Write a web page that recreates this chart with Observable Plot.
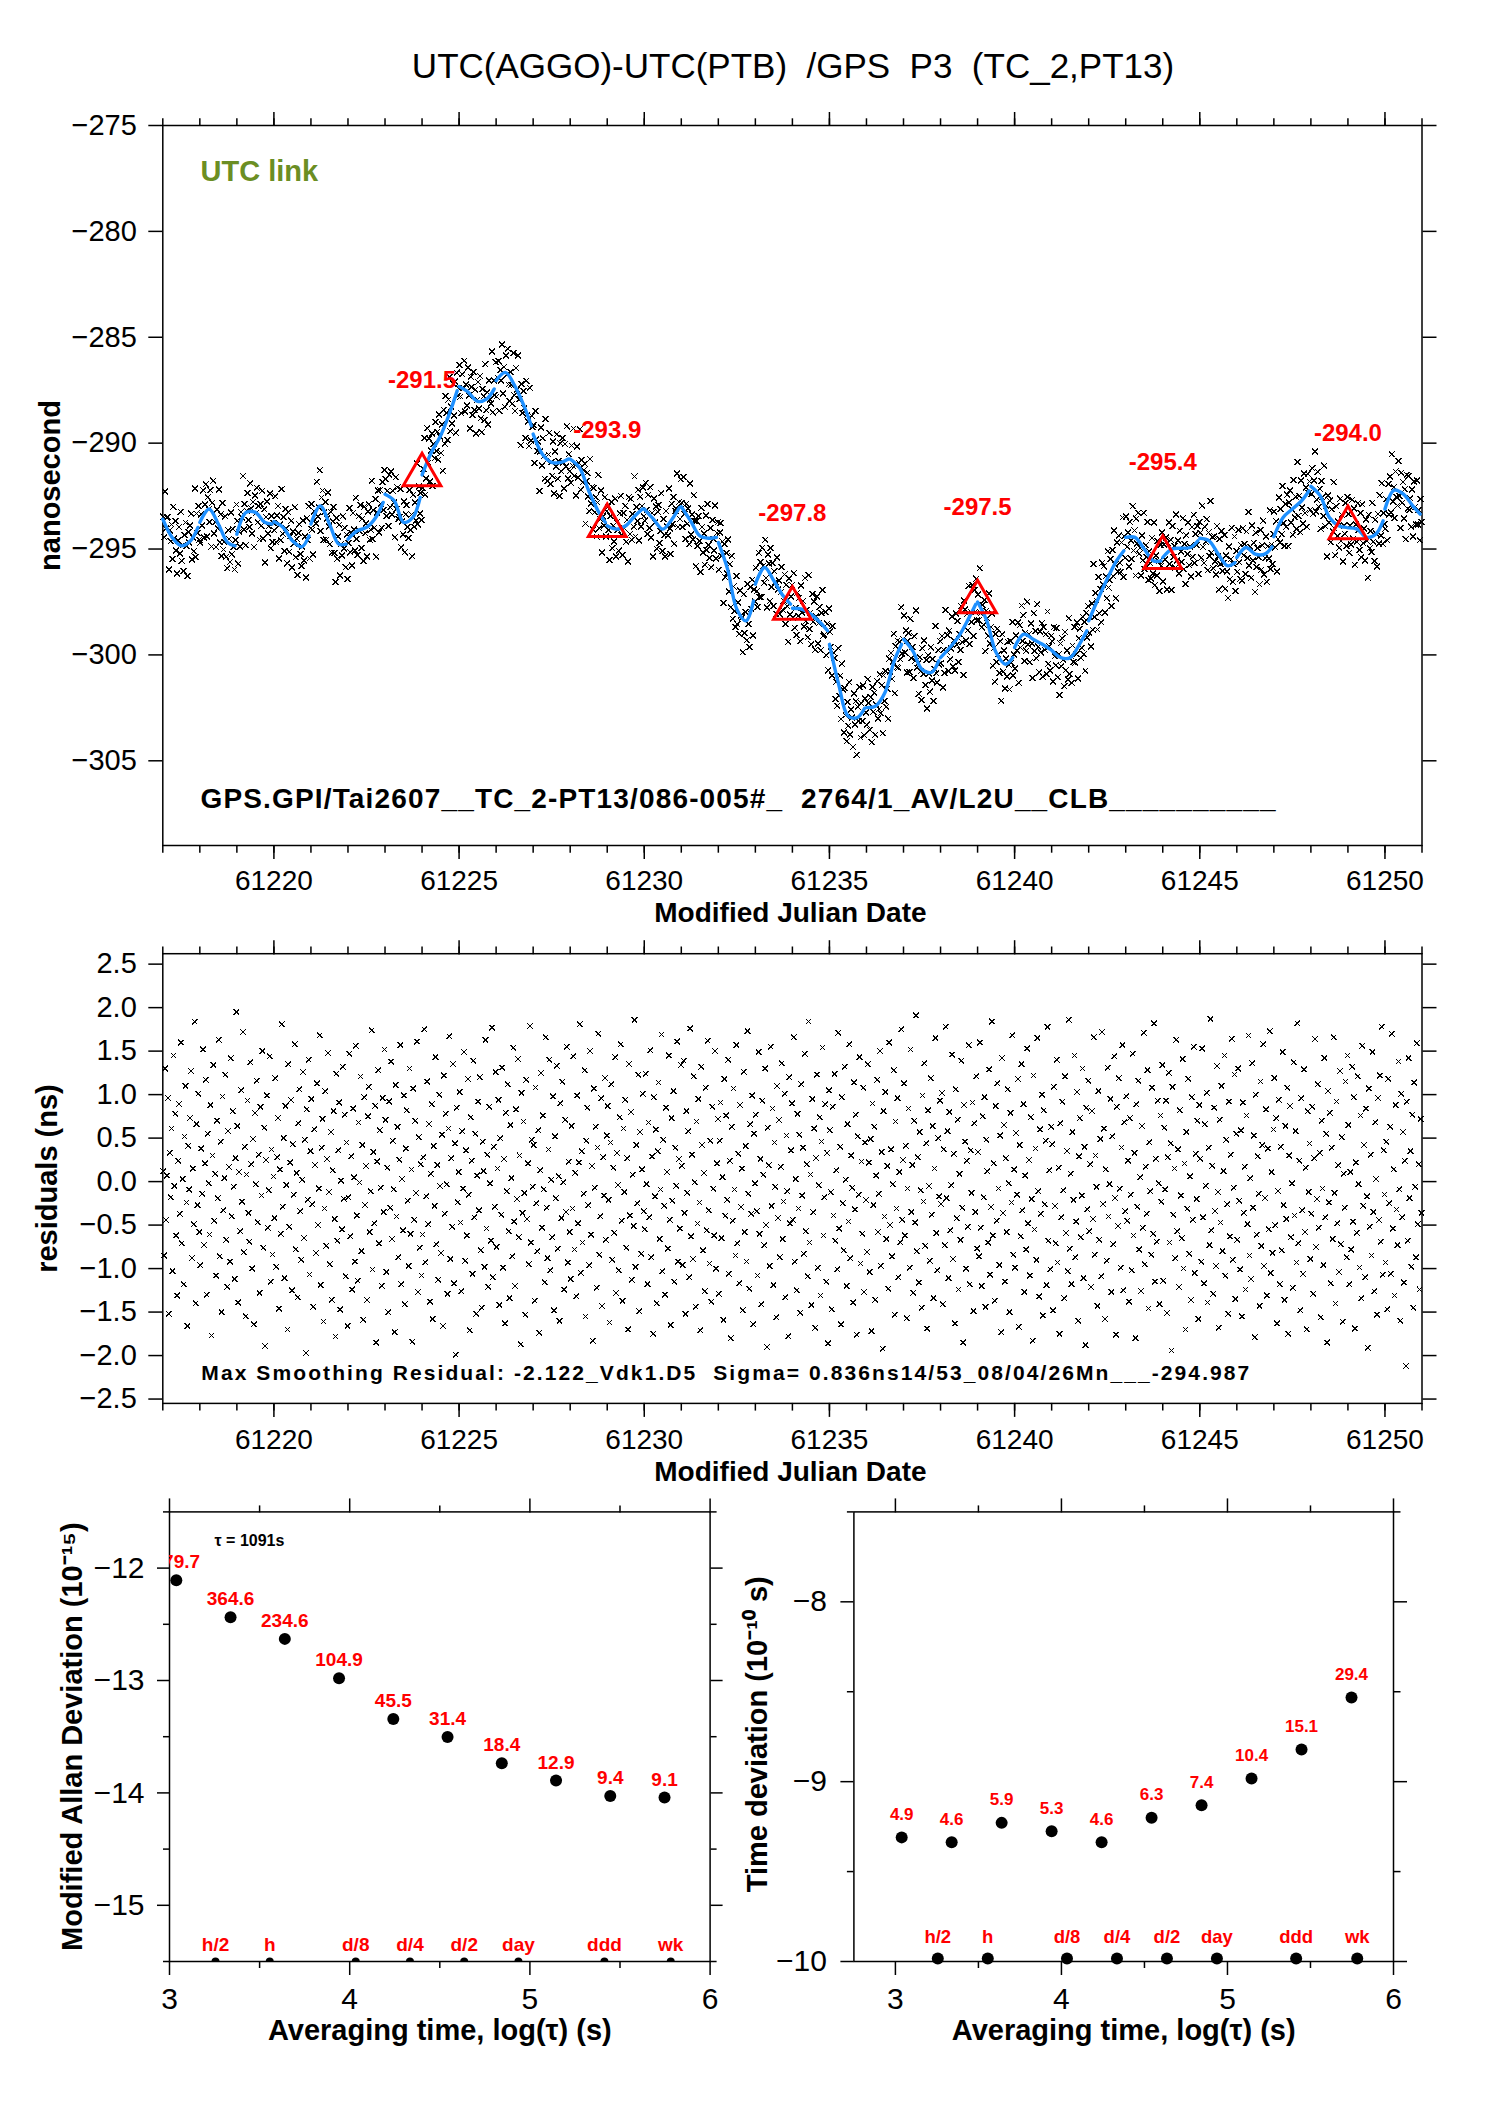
<!DOCTYPE html>
<html><head><meta charset="utf-8">
<script src="https://cdn.jsdelivr.net/npm/d3@7"></script>
<script src="https://cdn.jsdelivr.net/npm/@observablehq/plot@0.6"></script>
<style>
body{margin:0;background:#fff;}
#page{position:relative;width:1488px;height:2105px;background:#fff;overflow:hidden;font-family:"Liberation Sans",Arial,Helvetica,sans-serif;}
#page svg{position:absolute;left:0;top:0;overflow:visible;background:transparent;max-width:none;}
#title{position:absolute;top:46px;left:793px;transform:translateX(-50%);white-space:pre;font-size:35px;line-height:40px;color:#000;}
</style></head><body>
<div id="page"><div id="title">UTC(AGGO)-UTC(PTB)  /GPS  P3  (TC_2,PT13)</div></div>
<script>
// ---------------- data ----------------
const mjdStart = 61217;
const mjdEnd = 61251;
// smoothed curve, 5 samples per day (offsets below), ns
const smoothOffsets = [0, 0.25, 0.5, 0.75, 0.95];
const smoothNs = [
-293.59,-294.45,-294.85,-294.61,-293.98,
-293.74,-293.11,-293.82,-294.69,-294.85,
-294.30,-293.27,-293.27,-293.74,-293.82,
-293.70,-293.98,-294.61,-294.90,-294.38,
-293.82,-292.96,-293.82,-294.77,-294.77,
-294.53,-294.14,-293.98,-293.51,-292.80,
-292.41,-292.72,-293.74,-293.51,-292.56,
-291.50,-290.44,-289.65,-288.55,-287.52,
-287.33,-287.60,-288.03,-287.91,-287.44,
-287.05,-286.66,-287.28,-288.23,-289.18,
-289.57,-290.52,-290.91,-290.91,-290.75,
-290.75,-291.15,-292.25,-293.19,-293.74,
-293.90,-294.06,-293.90,-293.43,-293.11,
-293.11,-293.59,-294.06,-293.59,-293.04,
-293.00,-293.67,-294.38,-294.49,-294.45,
-294.69,-295.95,-297.84,-298.39,-297.45,
-296.66,-295.87,-296.50,-297.21,-297.60,
-297.80,-297.84,-298.08,-298.47,-298.86,
-299.50,-301.39,-302.88,-302.96,-302.52,
-302.49,-302.41,-301.78,-300.28,-299.50,
-299.26,-299.81,-300.68,-300.83,-300.28,
-300.13,-299.65,-299.10,-298.31,-297.61,
-297.50,-298.39,-299.89,-300.44,-300.13,
-299.65,-299.02,-299.26,-299.50,-299.73,
-299.78,-300.13,-300.13,-299.50,-298.86,
-298.39,-297.37,-296.42,-295.56,-295.08,
-294.45,-294.45,-295.00,-295.56,-295.56,
-295.40,-295.00,-294.96,-294.93,-294.61,
-294.49,-294.61,-295.24,-295.79,-295.64,
-295.40,-294.93,-295.24,-295.24,-294.90,
-294.42,-293.51,-293.11,-292.72,-292.25,
-292.04,-292.48,-293.51,-293.90,-293.98,
-294.00,-294.06,-294.45,-294.30,-293.67,
-293.11,-292.22,-292.41,-292.96,-293.35
];
// residuals from the smoothing, 40 per day, in hundredths of ns
const residualsPerDay = 40;
const residualsCentiNs = [
12,-85,130,-44,7,96,-152,33,-18,61,-103,145,-5,78,-62,-131,24,89,-37,160,-71,3,-118,52,110,-24,-166,41,-9,73,127,-88,15,-49,184,-140,66,-27,101,-58,
-96,38,-14,152,-73,21,117,-130,55,-2,-61,88,-177,30,134,-45,9,-108,70,-19,163,-86,46,-150,98,-33,4,123,-67,-121,58,17,-92,142,-40,81,-6,-112,27,195,
64,-139,11,-57,105,-23,172,-81,40,-155,8,93,-36,-69,137,20,-100,49,-164,79,-3,116,-47,31,-128,86,-16,150,-76,62,-189,25,99,-53,-10,144,-115,37,-84,6,
-42,119,-98,28,73,-146,14,-60,181,-29,50,-111,87,-4,-170,135,-52,22,94,-125,43,-15,158,-78,10,-133,67,106,-34,-90,2,126,-65,48,-197,83,-21,140,-107,35,
95,-26,-144,60,19,-82,113,-50,-8,168,-119,39,72,-161,-31,104,-74,26,148,-12,-95,57,-136,13,81,-43,-178,124,-68,36,91,-147,1,-55,132,-20,77,-109,45,-166,
-18,147,-63,29,-124,84,5,-92,156,-39,-114,68,-1,121,-80,42,-159,97,-27,18,-136,75,109,-58,-11,174,-101,34,-48,87,-185,23,128,-71,59,-7,-120,96,-35,152,
71,-104,16,-150,92,-30,138,-66,47,-9,-173,111,-40,63,-87,25,157,-118,3,-56,99,-141,38,82,-22,-97,130,-60,14,-184,107,-44,70,-13,161,-127,51,-76,20,-108,
-61,28,175,-93,-17,115,-49,66,-138,9,89,-158,41,-28,143,-72,19,-113,100,-5,-82,54,-166,122,-37,78,-3,-129,61,167,-89,27,-52,135,-117,44,-199,85,-24,11,
103,-47,-126,58,-8,149,-91,36,-62,118,-15,-171,74,24,-106,139,-41,55,-152,7,92,-33,120,-79,-145,46,12,-98,163,-54,31,-121,86,-2,-68,177,-110,40,-29,126,
-75,15,94,-142,50,-38,131,-99,26,-163,79,-11,112,-57,-134,65,4,-86,154,-46,-120,83,-20,141,-64,30,-187,102,-36,69,-13,-153,117,-43,21,-95,179,-70,48,-6,
42,-137,108,-25,-80,59,-174,13,125,-53,76,-9,-116,166,-30,-88,37,140,-102,2,-64,98,-148,52,-19,133,-77,6,-160,90,-42,115,-1,-124,71,-35,155,-93,23,-58,
-112,64,-31,144,-78,10,-132,99,-48,22,181,-105,35,-70,-14,128,-155,47,85,-27,-96,150,-61,18,-183,107,-7,63,-122,39,170,-84,-40,96,-143,28,-16,119,-67,53,
87,-21,-162,45,112,-90,16,-59,143,-128,33,-4,-102,74,158,-45,-137,61,-12,94,-76,27,-170,135,-39,80,-113,8,-51,186,-98,42,-25,123,-149,57,-83,14,101,-34,
-55,124,-3,-118,68,-41,151,-87,29,-175,97,-17,60,-140,35,114,-66,-9,169,-103,48,-28,-130,85,11,-77,145,-44,-165,73,-22,104,-115,39,-5,161,-92,26,-54,134,
18,-96,139,-36,-152,81,-13,58,-110,176,-63,31,-89,121,-1,-144,69,-48,95,-24,-171,132,42,-79,10,-126,108,-56,162,-33,-94,47,-138,86,-8,-62,150,-100,21,72,
-129,47,91,-65,5,-159,118,-39,76,-21,140,-106,24,-180,63,-45,107,-9,-85,157,-71,32,-117,88,-29,15,-148,126,-58,41,-92,173,-14,-123,66,-37,99,-164,55,-2,
77,-34,-108,149,-60,26,-141,93,8,-73,130,-50,-190,62,19,-97,155,-28,84,-119,45,-6,-156,110,-42,71,-87,17,136,-66,-23,101,-133,53,-11,-178,120,-48,36,90,
-44,166,-92,3,-125,78,-31,54,-151,112,-16,39,-83,147,-57,20,-109,184,-70,8,-142,95,-35,61,-168,27,123,-99,-4,74,-131,46,154,-62,-18,89,-115,33,-186,105,
59,-12,-147,86,-39,124,-68,13,-101,171,-54,40,-164,97,-25,-79,132,2,-120,66,-46,158,-88,30,-7,-139,114,-32,77,-176,52,-15,143,-94,23,-60,108,-127,45,-21,
-81,135,22,-104,49,-172,90,-27,63,-136,7,117,-58,-14,150,-97,34,-192,81,-40,103,-66,18,-123,160,-50,37,-86,-3,128,-153,69,-31,96,-110,11,-70,175,-44,25,
113,-62,41,-157,-8,84,-99,152,-35,19,-128,70,-47,191,-80,28,-116,57,-10,-145,99,-23,136,-74,44,-169,82,-5,-91,119,-38,64,-134,15,165,-59,-102,50,-17,93,
-26,102,-141,37,-73,178,-19,58,-111,80,-56,-4,146,-89,32,-163,106,-42,71,-124,9,-67,139,-30,-185,88,46,-100,24,-52,157,-118,36,-13,91,-149,67,-35,121,-77,
34,-86,160,-53,-120,75,-18,97,-144,48,12,-70,129,-107,-29,184,-62,21,-137,87,-45,113,-8,-96,53,-173,142,-36,65,-115,27,-58,106,-2,-150,79,-24,168,-84,14,
-99,56,-15,118,-167,42,-63,135,-33,89,-127,7,-78,153,-48,25,-108,74,-20,-183,122,-55,38,-90,165,-11,-132,60,-37,100,-154,82,-26,47,-119,178,-68,13,-101,63,
43,-148,109,-28,-71,140,-93,16,-175,67,-41,92,-10,-134,121,-59,35,-103,186,-77,9,-118,57,-21,145,-87,-46,103,-160,29,73,-64,-16,130,-111,40,-188,85,-32,116,
-57,20,-121,81,-43,166,-84,30,-6,-143,104,-67,49,-109,172,-26,61,-158,14,-91,131,-40,-3,95,-127,52,-72,144,-19,-176,86,-51,119,-8,-99,39,157,-125,68,-34,
98,-45,24,-138,73,-15,-102,147,-62,33,-180,89,-29,116,-78,5,-126,64,-53,171,-95,17,-37,128,-146,45,-11,-84,108,-60,182,-115,26,-69,93,-2,-141,76,-23,134,
-114,62,-9,93,-151,28,125,-70,44,-194,109,-38,15,-88,163,-57,37,-121,82,-16,-65,141,-100,21,-170,57,-31,118,-83,6,-136,97,-44,155,-105,32,-20,70,-158,88,
26,-92,153,-41,-117,66,-5,102,-139,39,-73,187,-56,18,-129,85,-34,-97,133,-12,-168,71,-47,110,-80,12,145,-108,48,-26,-152,92,-63,31,164,-90,-7,123,-135,55,
-67,130,-22,-101,59,-155,91,-36,17,-124,76,-49,168,-85,4,-112,136,-30,53,-179,100,-61,29,-14,-143,115,-74,42,158,-97,-19,83,-131,38,-55,173,-105,11,-82,60,
119,-50,73,-163,-11,94,-118,40,-79,149,-27,-136,64,-43,108,-175,30,87,-64,-2,-122,137,-39,58,-93,182,-71,24,-148,96,-33,-106,129,-58,16,-170,81,-12,44,-89,
-37,86,-129,27,164,-75,-20,112,-53,33,-156,70,-8,-96,142,-41,55,-185,104,-24,79,-117,39,-66,166,-13,-140,92,-48,19,-104,127,-72,51,-161,9,-30,115,-87,145,
65,-118,11,-78,132,-46,97,-169,22,-59,121,-3,-99,76,-134,156,-28,42,-110,84,-17,-191,107,-52,31,-85,149,-35,-126,68,3,-153,96,-44,122,-69,178,-107,36,-15,
-93,46,-147,118,-25,63,-106,170,-54,14,-131,88,-32,-73,138,-9,-160,101,-41,57,-116,24,-212,92,-68,142,-19,35,-98,77,-145,114,-6,-87,159,-49,20,-124,72,-36
];
// red triangles (smoothed value at 5-day marks)
const triangleMjd = [61224, 61229, 61234, 61239, 61244, 61249];
const triangleNs = [-291.5, -293.9, -297.8, -297.5, -295.4, -294.0];

// tick values
const topYTicks = [-305, -300, -295, -290, -285, -280, -275];
const midYTicks = [-2.5, -2, -1.5, -1, -0.5, 0, 0.5, 1, 1.5, 2, 2.5];
const mjdMajorTicks = [61220, 61225, 61230, 61235, 61240, 61245, 61250];
const mjdMinorTicks = d3.range(61217, 61252);
const logMajorTicks = [3, 4, 5, 6];
const logMinorTicks = [3.5, 4.5, 5.5];
const mdevYMajor = [-15, -14, -13, -12];
const mdevYMinor = [-15.5, -14.5, -13.5, -12.5, -11.5];
const tdevYMajor = [-10, -9, -8];
const tdevYMinor = [-9.5, -8.5, -7.5];

// stability analysis
const tauSeconds = [1091, 2182, 4364, 8728, 17456, 34912, 69824, 139648, 279296, 558592];
const modAdev1e15 = [779.7, 364.6, 234.6, 104.9, 45.5, 31.4, 18.4, 12.9, 9.4, 9.1];
const tdev1e10 = [4.9, 4.6, 5.9, 5.3, 4.6, 6.3, 7.4, 10.4, 15.1, 29.4];
const markerNames = ["h/2", "h", "d/8", "d/4", "d/2", "day", "ddd", "wk"];
const markerSeconds = [1800, 3600, 10800, 21600, 43200, 86400, 259200, 604800];

// texts
const topInfo = "GPS.GPI/Tai2607__TC_2-PT13/086-005#_  2764/1_AV/L2U__CLB__________";
const midInfo = "Max Smoothing Residual: -2.122_Vdk1.D5  Sigma= 0.836ns14/53_08/04/26Mn___-294.987";

// ---------------- tables ----------------
const nOff = smoothOffsets.length;
const smooth = smoothNs.map((v, i) => ({t: mjdStart + Math.floor(i / nOff) + smoothOffsets[i % nOff], v, day: Math.floor(i / nOff)}));
const raw = residualsCentiNs.map((c, j) => {
  const day = Math.floor(j / residualsPerDay);
  const f = (j % residualsPerDay + 0.5) / residualsPerDay;
  const k = d3.minIndex(smoothOffsets, o => Math.abs(o - f));
  return {t: mjdStart + day + f, r: c / 100, v: smoothNs[day * nOff + k] + c / 100};
});
const tri = triangleMjd.map((t, i) => ({t, v: triangleNs[i]}));
const mdev = tauSeconds.map((s, i) => ({x: Math.log10(s), y: Math.log10(modAdev1e15[i]) - 15, label: modAdev1e15[i].toFixed(1)}));
const tdev = tauSeconds.map((s, i) => ({x: Math.log10(s), y: Math.log10(tdev1e10[i]) - 10, label: tdev1e10[i].toFixed(1)}));
const markers = markerSeconds.map((s, i) => ({x: Math.log10(s), name: markerNames[i]}));

// ---------------- helpers ----------------
const W = 1488, H = 2105;
const FONT = "'Liberation Sans', Arial, Helvetica, sans-serif";
const MINUS = "\u2212";
const fmt = digits => d => (d < 0 ? MINUS : "") + Math.abs(d).toFixed(digits);
const LS = {stroke: "black", strokeWidth: 1.5, label: null};

function frameAxes(o) {
  const m = [
    Plot.axisX({...LS, anchor: "bottom", ticks: o.xMajor, tickSize: o.xMaj, tickPadding: o.xPad, tickFormat: o.xFmt, fontSize: o.xfs ?? o.fs, fill: "black"}),
    Plot.axisX({...LS, anchor: "top", ticks: o.xMajor, tickSize: o.xMaj, fill: "none"}),
    Plot.axisX({...LS, anchor: "bottom", ticks: o.xMinor, tickSize: o.xMin, fill: "none"}),
    Plot.axisX({...LS, anchor: "top", ticks: o.xMinor, tickSize: o.xMin, fill: "none"}),
    Plot.axisY({...LS, anchor: "left", ticks: o.yMajor, tickSize: o.yMaj, tickPadding: o.yPad, tickFormat: o.yFmt, fontSize: o.fs, fill: "black"}),
    Plot.axisY({...LS, anchor: "right", ticks: o.yMajor, tickSize: o.yMaj, fill: "none"})
  ];
  if (o.yMinor) {
    m.push(Plot.axisY({...LS, anchor: "left", ticks: o.yMinor, tickSize: o.yMin, fill: "none"}));
    m.push(Plot.axisY({...LS, anchor: "right", ticks: o.yMinor, tickSize: o.yMin, fill: "none"}));
  }
  m.push(Plot.frame({stroke: "black", strokeWidth: 1.5}));
  return m;
}
const label = (txt, opts) => Plot.text([txt], {text: d => d, fontWeight: "bold", fill: "black", textAnchor: "middle", lineAnchor: "middle", ...opts});
const common = {width: W, height: H, style: {fontFamily: FONT, background: "transparent", overflow: "visible"}};
const page = document.getElementById("page");
function fitText(svg, str, len) {
  d3.select(svg).selectAll("text").filter(function () { return this.textContent === str; })
    .attr("textLength", len).attr("lengthAdjust", "spacing");
}

// ---------------- panel 1: time series ----------------
const p1 = Plot.plot({
  ...common,
  marginLeft: 162.3, marginRight: W - 1421.5, marginTop: 125, marginBottom: H - 845,
  x: {domain: [mjdStart, mjdEnd]},
  y: {domain: [-309, -275]},
  marks: [
    ...frameAxes({xMajor: mjdMajorTicks, xMinor: mjdMinorTicks, xMaj: 14, xMin: 7.7, xPad: 11, xFmt: d => String(d),
      yMajor: topYTicks, yMaj: 14, yPad: 12, yFmt: fmt(0), fs: 29, xfs: 28}),
    Plot.dot(raw, {x: "t", y: "v", symbol: "times", r: 2.8, stroke: "black", strokeWidth: 1.2, shapeRendering: "crispEdges"}),
    Plot.line(smooth, {x: "t", y: "v", z: "day", stroke: "#1e90ff", strokeWidth: 3.4, curve: "catmull-rom"}),
    Plot.dot(tri, {x: "t", y: "v", symbol: "triangle", r: 14, stroke: "#ff0000", strokeWidth: 3, fill: "none"}),
    Plot.text(tri, {x: "t", y: "v", text: d => d.v.toFixed(1), dy: -95, fill: "#ff0000", fontSize: 24, fontWeight: "bold"}),
    label("UTC link", {frameAnchor: "top-left", dx: 37.7, dy: 46.7, textAnchor: "start", fill: "#6b8e23", fontSize: 29}),
    label(topInfo, {frameAnchor: "bottom-left", dx: 37.7, dy: -46.7, textAnchor: "start", fontSize: 28}),
    label("nanosecond", {frameAnchor: "left", dx: -112, dy: 0, rotate: -90, fontSize: 29}),
    label("Modified Julian Date", {frameAnchor: "bottom", dx: -2, dy: 68, fontSize: 28})
  ]
});
fitText(p1, topInfo, 1075);
page.appendChild(p1);

// ---------------- panel 2: residuals ----------------
const p2 = Plot.plot({
  ...common,
  marginLeft: 162.3, marginRight: W - 1421.5, marginTop: 953.2, marginBottom: H - 1402.9,
  x: {domain: [mjdStart, mjdEnd]},
  y: {domain: [-2.55, 2.62]},
  marks: [
    ...frameAxes({xMajor: mjdMajorTicks, xMinor: mjdMinorTicks, xMaj: 14, xMin: 7.7, xPad: 12, xFmt: d => String(d),
      yMajor: midYTicks, yMaj: 14, yPad: 12, yFmt: fmt(1), fs: 29, xfs: 28}),
    Plot.dot(raw, {x: "t", y: "r", symbol: "times", r: 2.6, stroke: "black", strokeWidth: 1.1, shapeRendering: "crispEdges"}),
    label(midInfo, {frameAnchor: "bottom-left", dx: 38.5, dy: -30.4, textAnchor: "start", fontSize: 21}),
    label("residuals (ns)", {frameAnchor: "left", dx: -114.8, dy: 0, rotate: -90, fontSize: 29}),
    label("Modified Julian Date", {frameAnchor: "bottom", dx: -2, dy: 68.5, fontSize: 28})
  ]
});
fitText(p2, midInfo, 1048);
page.appendChild(p2);

// ---------------- panel 3: modified Allan deviation ----------------
page.appendChild(Plot.plot({
  ...common,
  marginLeft: 169, marginRight: W - 709.6, marginTop: 1511.4, marginBottom: H - 1961,
  x: {domain: [3, 6]},
  y: {domain: [-15.5, -11.5]},
  marks: [
    ...frameAxes({xMajor: logMajorTicks, xMinor: logMinorTicks, xMaj: 14, xMin: 7, xPad: 12, xFmt: d => String(d),
      yMajor: mdevYMajor, yMinor: mdevYMinor, yMaj: 12, yMin: 6, yPad: 13, yFmt: fmt(0), fs: 30}),
    Plot.dot(mdev, {x: "x", y: "y", r: 6, fill: "black"}),
    Plot.text(mdev, {x: "x", y: "y", text: "label", dy: -18, fill: "#ff0000", fontSize: 19, fontWeight: "bold", clip: true}),
    Plot.dot(markers, {x: "x", y: () => -15.5, r: 4, fill: "black", clip: true}),
    Plot.text(markers, {x: "x", y: () => -15.5, text: "name", dy: -17, fill: "#ff0000", fontSize: 19, fontWeight: "bold"}),
    label("\u03c4 = 1091s", {frameAnchor: "top-left", dx: 45, dy: 29, textAnchor: "start", fontSize: 16}),
    label("Modified Allan Deviation (10\u207b\u00b9\u2075)", {frameAnchor: "left", dx: -96.7, dy: 0, rotate: -90, fontSize: 29}),
    label("Averaging time, log(\u03c4) (s)", {frameAnchor: "bottom", dy: 69, fontSize: 29})
  ]
}));

// ---------------- panel 4: time deviation ----------------
page.appendChild(Plot.plot({
  ...common,
  marginLeft: 853.4, marginRight: W - 1393, marginTop: 1511.4, marginBottom: H - 1961,
  x: {domain: [2.75, 6]},
  y: {domain: [-10, -7.5]},
  marks: [
    ...frameAxes({xMajor: logMajorTicks, xMinor: logMinorTicks, xMaj: 14, xMin: 7, xPad: 12, xFmt: d => String(d),
      yMajor: tdevYMajor, yMinor: tdevYMinor, yMaj: 13, yMin: 6.5, yPad: 14, yFmt: fmt(0), fs: 30}),
    Plot.dot(tdev, {x: "x", y: "y", r: 6, fill: "black"}),
    Plot.text(tdev, {x: "x", y: "y", text: "label", dy: -23, fill: "#ff0000", fontSize: 17, fontWeight: "bold"}),
    Plot.dot(markers, {x: "x", y: () => -10, dy: -3, r: 6, fill: "black"}),
    Plot.text(markers, {x: "x", y: () => -10, text: "name", dy: -24.6, fill: "#ff0000", fontSize: 18.5, fontWeight: "bold"}),
    label("Time deviation (10\u207b\u00b9\u2070 s)", {frameAnchor: "left", dx: -96.6, dy: -2.4, rotate: -90, fontSize: 29}),
    label("Averaging time, log(\u03c4) (s)", {frameAnchor: "bottom", dy: 69, fontSize: 29})
  ]
}));
</script></body></html>
